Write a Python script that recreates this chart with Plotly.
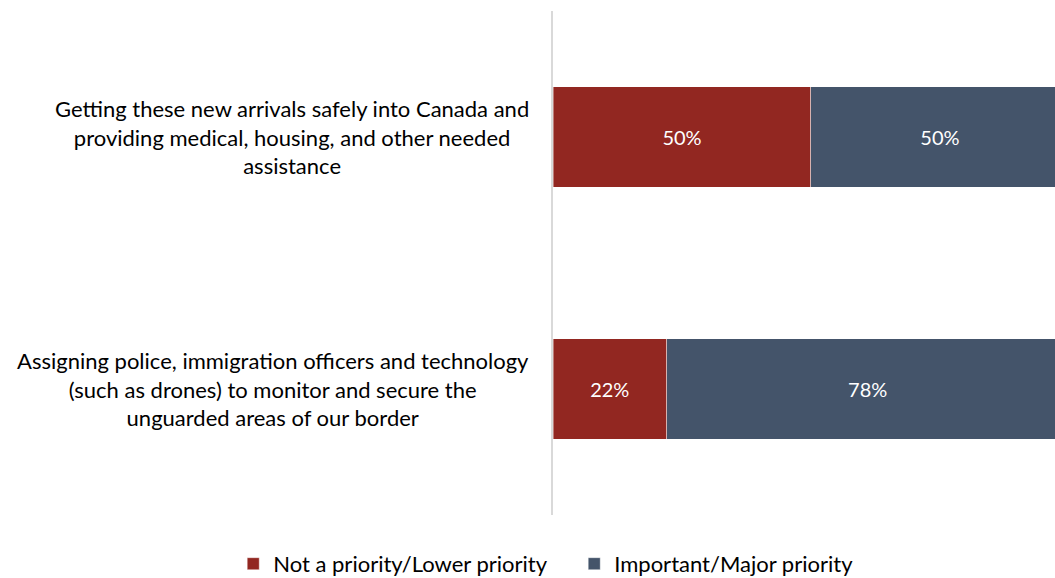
import plotly.graph_objects as go

categories = [
    "Getting these new arrivals safely into Canada and<br>providing medical, housing, and other needed<br>assistance",
    "Assigning police, immigration officers and technology<br>(such as drones) to monitor and secure the<br>unguarded areas of our border",
]
lower_priority = [50, 22]
major_priority = [50, 78]
series_names = ["Not a priority/Lower priority", "Important/Major priority"]
series_colors = ["#922721", "#44546A"]

FONT = "Lato"

fig = go.Figure()
for name, vals, color in zip(series_names, [lower_priority, major_priority], series_colors):
    fig.add_trace(go.Bar(
        y=categories,
        x=vals,
        name=name,
        orientation="h",
        marker=dict(color=color, line=dict(color="rgba(255,255,255,0.5)", width=0.8)),
        text=[f"{v}%" for v in vals],
        textposition="inside",
        insidetextanchor="middle",
        textfont=dict(color="white", size=20, family=FONT),
        width=0.4,
        cliponaxis=True,
    ))

# Category labels, centred text block ending just left of the axis
for cat in categories:
    fig.add_annotation(
        x=0, xref="paper", y=cat, yref="y",
        text=cat, showarrow=False,
        xanchor="right", yanchor="middle", align="center",
        xshift=-22,
        font=dict(size=22, color="#000000", family=FONT),
    )

fig.update_layout(
    barmode="stack",
    width=1055, height=578,
    margin=dict(l=553, r=0, t=11, b=63, autoexpand=False),
    paper_bgcolor="white",
    plot_bgcolor="white",
    font=dict(family=FONT, color="#000000"),
    showlegend=True,
    legend=dict(
        orientation="h",
        x=-0.637, xanchor="left",
        y=-0.097, yanchor="middle",
        font=dict(size=22, color="#000000", family=FONT),
        traceorder="normal",
        itemwidth=30,
        entrywidth=296,
    ),
    xaxis=dict(
        range=[0, 97.3], showgrid=False, zeroline=False,
        showticklabels=False, showline=False, fixedrange=True,
    ),
    yaxis=dict(
        categoryorder="array", categoryarray=categories, autorange="reversed",
        showticklabels=False, showgrid=False, zeroline=False,
        showline=True, linecolor="#D9D9D9", linewidth=2, ticks="",
    ),
)

fig.write_html("out.html")
